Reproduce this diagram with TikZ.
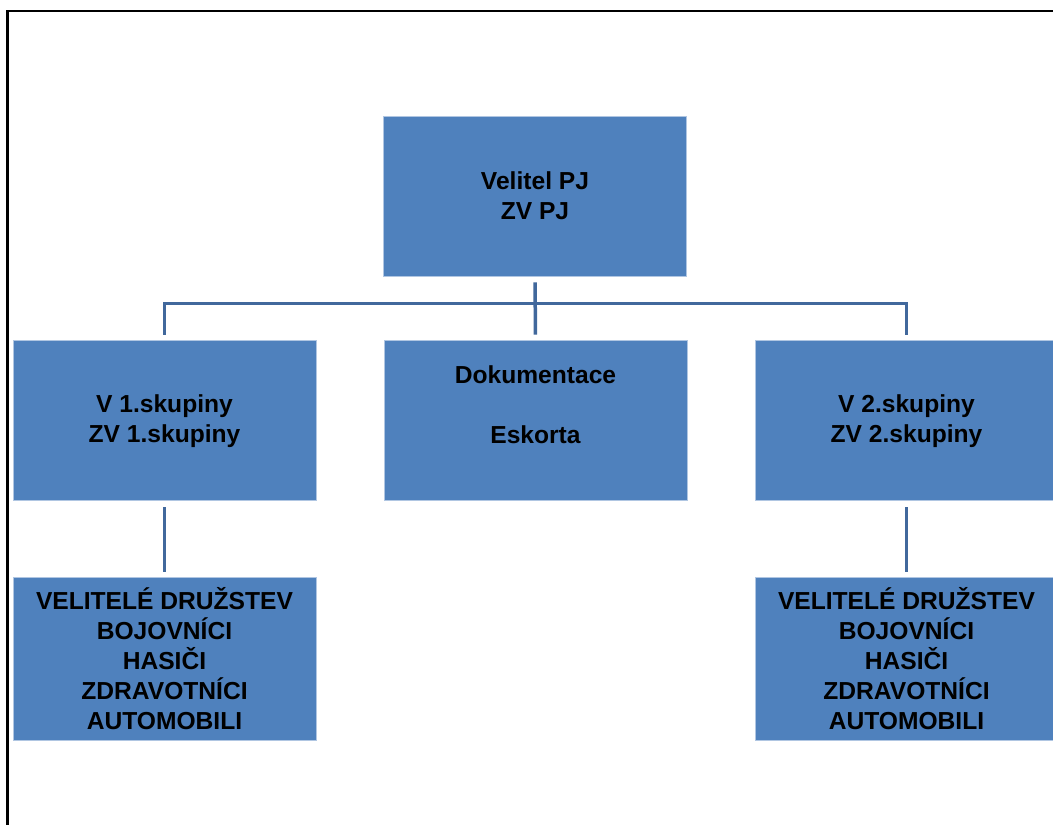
\documentclass[tikz,border=0pt]{standalone}
\usepackage{fontspec}
\setmainfont{Liberation Sans}
\definecolor{boxblue}{HTML}{4F81BD}
\definecolor{boxedge}{HTML}{B0C6E2}
\definecolor{linkblue}{HTML}{41689C}
\begin{document}
\begin{tikzpicture}[x=1pt,y=-1pt,
  orgbox/.style={rectangle, fill=boxblue, draw=boxedge, line width=0.8pt,
    minimum width=303pt, inner sep=0pt, align=center,
    font=\fontsize{24.6}{30}\selectfont\bfseries},
  conn/.style={draw=linkblue, line width=3.5pt}]
\useasboundingbox (0,0) rectangle (1053,825);
\clip (0,0) rectangle (1053,825);
\fill[white] (0,0) rectangle (1053,825);
% frame (top and left visible)
\draw[black, line width=2.6pt] (7.5,825) -- (7.5,11) -- (1053,11);
% nodes
\node[orgbox, minimum height=160pt] (top) at (535,196) {Velitel PJ\\ZV PJ};
\node[orgbox, minimum height=160pt, text depth=2pt] (v1) at (164.5,420) {V 1.skupiny\\ZV 1.skupiny};
\node[orgbox, minimum height=160pt, text depth=31pt] (dok) at (535.5,420) {Dokumentace\\[30pt]Eskorta};
\node[orgbox, minimum height=160pt, text depth=2pt] (v2) at (906.5,420) {V 2.skupiny\\ZV 2.skupiny};
\node[orgbox, minimum height=163pt] (b1) at (164.5,658.5) {VELITELÉ DRUŽSTEV\\BOJOVNÍCI\\HASIČI\\ZDRAVOTNÍCI\\AUTOMOBILI};
\node[orgbox, minimum height=163pt] (b2) at (906.5,658.5) {VELITELÉ DRUŽSTEV\\BOJOVNÍCI\\HASIČI\\ZDRAVOTNÍCI\\AUTOMOBILI};
% connectors
\coordinate (bus) at (535,303.5);
\draw[conn, shorten <=5pt, shorten >=6pt] (dok.north) -- (top.south);
\draw[conn, shorten <=5pt, shorten >=5pt] (v1.north) -- (v1.north |- bus) -- (v2.north |- bus) -- (v2.north);
\draw[conn, shorten <=7pt, shorten >=5pt] (v1.south) -- (b1.north);
\draw[conn, shorten <=7pt, shorten >=5pt] (v2.south) -- (b2.north);
\end{tikzpicture}
\end{document}
